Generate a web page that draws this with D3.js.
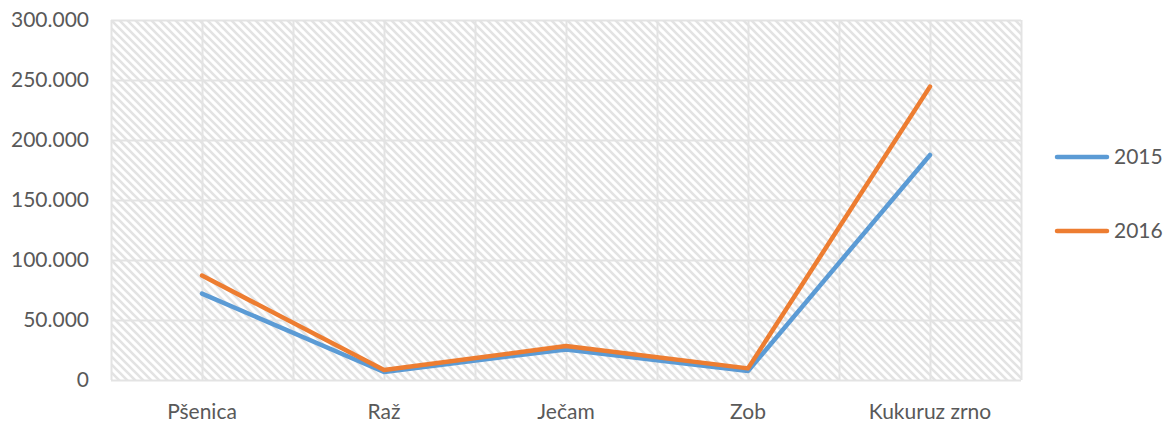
<!DOCTYPE html>
<html>
<head>
<meta charset="utf-8">
<script src="https://cdn.jsdelivr.net/npm/d3@7"></script>
<style>
  body { margin: 0; background: #fff; }
  svg text { font-family: Lato, "Open Sans", sans-serif; fill: #595959; }
</style>
</head>
<body>
<svg width="1172" height="426"></svg>
<script>
'use strict';

// data
const categories = ['Pšenica', 'Raž', 'Ječam', 'Zob', 'Kukuruz zrno'];
const seriesNames = ['2015', '2016'];
const values2015 = [72000, 6700, 25500, 7500, 187500];
const values2016 = [87000, 8300, 28300, 9700, 244500];
const yTicks = [0, 50000, 100000, 150000, 200000, 250000, 300000];
const colors = ['#5b9bd5', '#ed7d31'];

const svg = d3.select('svg');
const margin = {top: 20, right: 151, bottom: 46, left: 111};
const width = 1172 - margin.left - margin.right;
const height = 426 - margin.top - margin.bottom;

// hatch fill of the plot area
const pat = svg.append('defs').append('pattern')
	.attr('id', 'hatch')
	.attr('width', 8).attr('height', 8)
	.attr('patternUnits', 'userSpaceOnUse');
pat.append('rect').attr('width', 8).attr('height', 8).attr('fill', '#fff');
pat.append('path')
	.attr('d', 'M-2,-2 L10,10 M-2,6 L2,10 M6,-2 L10,2')
	.attr('stroke', '#e3e3e3')
	.attr('stroke-width', 2.6);

const x = d3.scaleBand().domain(categories).range([0, width]);
const y = d3.scaleLinear().domain([0, 300000]).range([height, 0]);
const fmt = d => d === 0 ? '0' : d3.format(',')(d).replace(/,/g, '.');

const g = svg.append('g')
	.attr('transform', `translate(${margin.left},${margin.top})`);

g.append('rect')
	.attr('width', width).attr('height', height)
	.attr('fill', 'url(#hatch)');

// gridlines: horizontal at ticks, vertical at half bands
g.append('g')
	.selectAll('line.h')
	.data(yTicks)
	.enter().append('line')
		.attr('x1', 0).attr('x2', width)
		.attr('y1', d => Math.round(y(d)) + 0.5)
		.attr('y2', d => Math.round(y(d)) + 0.5)
		.attr('stroke', '#e3e3e3')
		.attr('stroke-width', 2);

const vLines = d3.range(categories.length * 2 + 1).map(i => i * x.bandwidth() / 2);
g.append('g')
	.selectAll('line.v')
	.data(vLines)
	.enter().append('line')
		.attr('x1', d => Math.round(d) + 0.5).attr('x2', d => Math.round(d) + 0.5)
		.attr('y1', 0).attr('y2', height)
		.attr('stroke', '#e3e3e3')
		.attr('stroke-width', 2);

// axes
const yAxis = g.append('g')
	.call(d3.axisLeft(y).tickValues(yTicks).tickFormat(fmt).tickSize(0).tickPadding(22));
yAxis.select('.domain').remove();
yAxis.selectAll('text').style('font-size', '21px').attr('dy', '0.33em');

const xAxis = g.append('g')
	.attr('transform', `translate(0,${height})`)
	.call(d3.axisBottom(x).tickSize(0).tickPadding(24));
xAxis.select('.domain').remove();
xAxis.selectAll('text').style('font-size', '21px');

// lines
const line = d3.line()
	.x((d, i) => x(categories[i]) + x.bandwidth() / 2)
	.y(d => y(d));

[values2015, values2016].forEach((vals, i) => {
	g.append('path')
		.datum(vals)
		.attr('fill', 'none')
		.attr('stroke', colors[i])
		.attr('stroke-width', 4.5)
		.attr('stroke-linejoin', 'round')
		.attr('stroke-linecap', 'round')
		.attr('d', line);
});

// legend
const legend = svg.append('g')
	.selectAll('g')
	.data(seriesNames)
	.enter().append('g')
		.attr('transform', (d, i) => `translate(1057,${157 + i * 74})`);
legend.append('line')
	.attr('x1', 0).attr('x2', 50)
	.attr('stroke', (d, i) => colors[i])
	.attr('stroke-width', 4.5)
	.attr('stroke-linecap', 'round');
legend.append('text')
	.attr('x', 57).attr('dy', '0.35em')
	.style('font-size', '21px')
	.text(d => d);
</script>
</body>
</html>
